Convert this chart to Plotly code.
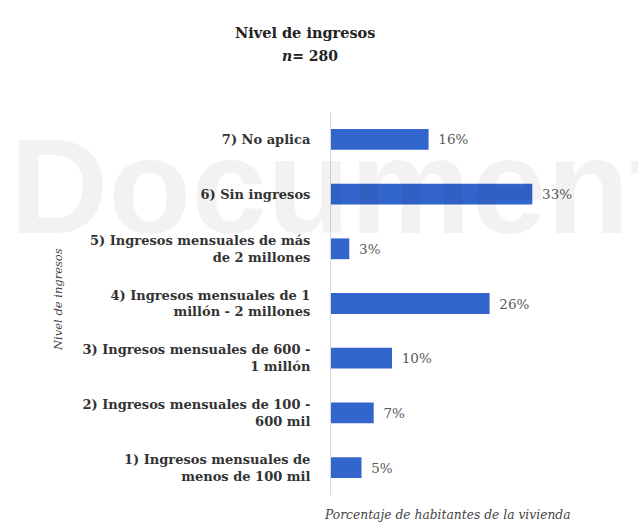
import plotly.graph_objects as go

# Income level categories (bottom to top) and share of household members (%)
categorias = [
    "1) Ingresos mensuales de<br>menos de 100 mil",
    "2) Ingresos mensuales de 100 -<br>600 mil",
    "3) Ingresos mensuales de 600 -<br>1 millón",
    "4) Ingresos mensuales de 1<br>millón - 2 millones",
    "5) Ingresos mensuales de más<br>de 2 millones",
    "6) Sin ingresos",
    "7) No aplica",
]
porcentajes = [5, 7, 10, 26, 3, 33, 16]
etiquetas = [f"{v}%" for v in porcentajes]

serif = "DejaVu Serif"

fig = go.Figure()
fig.add_trace(go.Bar(
    x=porcentajes,
    y=categorias,
    orientation="h",
    marker=dict(color="#3366cc", line=dict(width=0)),
    text=["\u2002" + t for t in etiquetas],
    textposition="outside",
    textfont=dict(family=serif, size=13.5, color="#5a5a5a"),
    cliponaxis=False,
    width=0.38,
))

fig.update_layout(
    width=638, height=531,
    margin=dict(l=331, r=63, t=112, b=36),
    paper_bgcolor="white", plot_bgcolor="white",
    showlegend=False,
    xaxis=dict(range=[0, 40], showgrid=False, showticklabels=False,
               zeroline=False, showline=False, fixedrange=True),
    yaxis=dict(range=[-0.5, 6.5], showgrid=False, showline=True,
               linecolor="#d9d9d9", linewidth=1, ticks="",
               ticklabelstandoff=17,
               tickprefix="<b>", ticksuffix="</b>",
               tickfont=dict(family=serif, size=13, color="#333333")),
    font=dict(family=serif),
    annotations=[
        dict(text="<b>Document</b>", x=8, y=186, showarrow=False,
             font=dict(family="Liberation Sans", size=136,
                       color="rgba(0,0,0,0.05)")),
        dict(text="<b>Nivel de ingresos</b>", x=305, y=32, showarrow=False,
             font=dict(family=serif, size=14.5, color="#222222")),
        dict(text="<b><i>n</i>= 280</b>", x=310, y=56, showarrow=False,
             font=dict(family=serif, size=14, color="#222222")),
        dict(text="<i>Porcentaje de habitantes de la vivienda</i>", x=447, y=515,
             showarrow=False, font=dict(family=serif, size=12.3, color="#444444")),
        dict(text="<i>Nivel de ingresos</i>", x=58, y=300, textangle=-90,
             showarrow=False, font=dict(family=serif, size=11.5, color="#444444")),
    ],
)

# Place the annotations in pixel coordinates of the page
W, H = 638, 531
pw, ph = W - 331 - 63, H - 112 - 36
for i, a in enumerate(fig.layout.annotations):
    a.xref, a.yref = "paper", "paper"
    a.x = (a.x - 331) / pw
    a.y = (H - 36 - a.y) / ph
    a.xanchor = "left" if i == 0 else "center"
    a.yanchor = "middle"

fig.write_html("out.html")
